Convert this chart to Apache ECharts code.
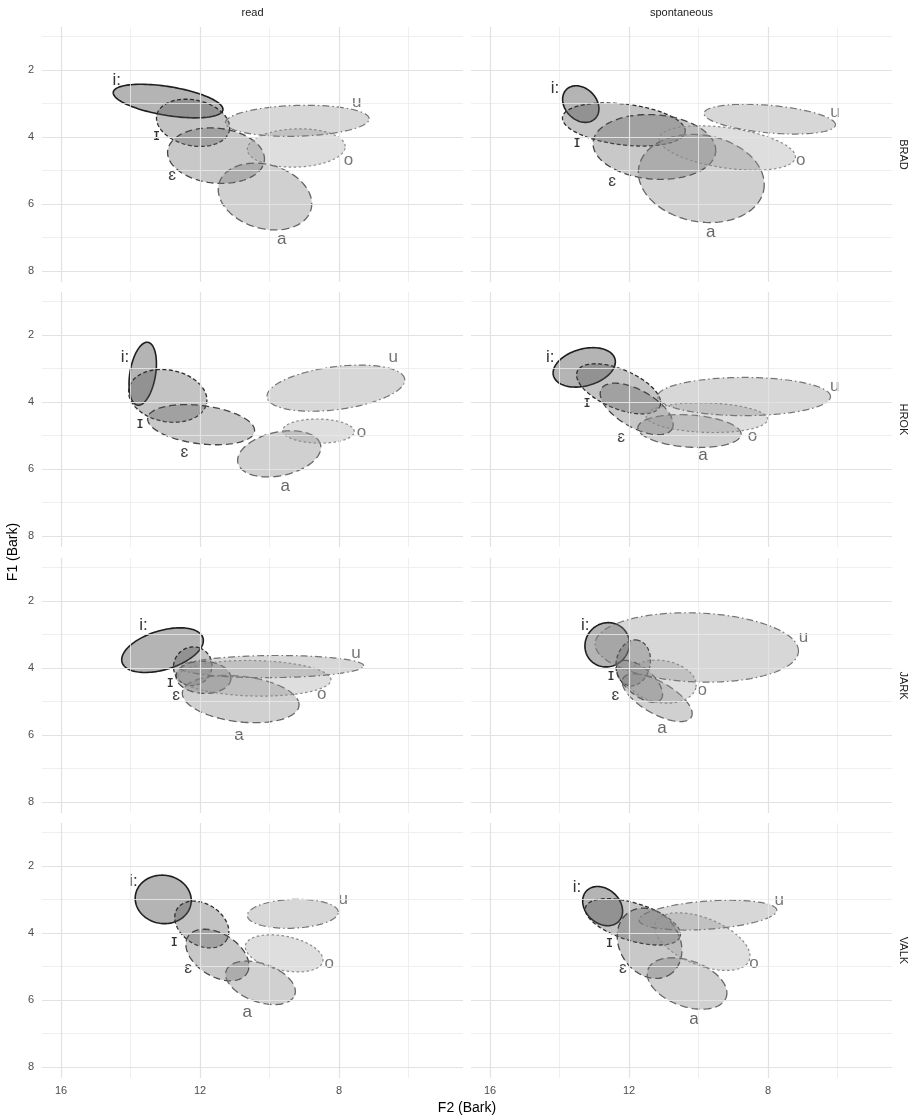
<!DOCTYPE html>
<html>
<head>
<meta charset="utf-8">
<script src="https://cdn.jsdelivr.net/npm/echarts@6/dist/echarts.min.js"></script>
<style>
  html, body { margin: 0; padding: 0; background: #ffffff; }
  #chart { width: 915px; height: 1119px; }
</style>
</head>
<body>
<div id="chart"></div>
<script>
// Facets: speakers in rows, speaking style in columns
const speakers = ['BRAD', 'HROK', 'JARK', 'VALK'];
const speechStyles = ['read', 'spontaneous'];
const vowels = ['i:', 'ɪ', 'ɛ', 'a', 'o', 'u'];

// Vowel ellipses, one row per vowel (order as in `vowels`):
// [F2 centre, F1 centre, semi-major, semi-minor, tilt in degrees] in Bark
const BRAD_read = [
  [12.92, 2.93, 1.60, 0.43, -9.6],
  [12.20, 3.58, 1.07, 0.68, -13],
  [11.54, 4.56, 1.40, 0.82, -6],
  [10.13, 5.78, 1.38, 0.95, -17.6],
  [9.23, 4.33, 1.41, 0.57, 1.9],
  [9.20, 3.52, 2.07, 0.46, 1.7]
];
const BRAD_spontaneous = [
  [13.39, 3.02, 0.60, 0.46, -50],
  [12.15, 3.63, 1.78, 0.61, -7],
  [11.27, 4.30, 1.77, 0.96, -4.6],
  [9.92, 5.24, 1.83, 1.29, -11.4],
  [9.17, 4.33, 1.98, 0.60, -8.5],
  [7.95, 3.47, 1.90, 0.41, -5.3]
];
const HROK_read = [
  [13.65, 3.16, 0.95, 0.37, 81],
  [12.93, 3.82, 1.14, 0.77, -11.6],
  [11.97, 4.68, 1.55, 0.57, -7.4],
  [9.72, 5.55, 1.22, 0.65, 12.9],
  [8.59, 4.87, 1.03, 0.36, -1],
  [8.09, 3.59, 2.00, 0.64, 7.8]
];
const HROK_spontaneous = [
  [13.29, 2.97, 0.92, 0.55, 16.5],
  [12.30, 3.61, 1.30, 0.58, -24],
  [11.78, 4.21, 1.18, 0.55, -31],
  [10.26, 4.87, 1.49, 0.48, -4],
  [9.76, 4.47, 1.75, 0.44, -1.7],
  [8.69, 3.84, 2.49, 0.57, 0]
];
const JARK_read = [
  [13.08, 3.47, 1.22, 0.58, 17.8],
  [12.21, 3.95, 0.58, 0.55, 70],
  [11.90, 4.28, 0.79, 0.48, -3],
  [10.83, 4.93, 1.69, 0.68, -6.9],
  [10.43, 4.31, 2.20, 0.53, -1.3],
  [9.94, 3.96, 2.65, 0.33, 0.5]
];
const JARK_spontaneous = [
  [12.63, 3.31, 0.67, 0.63, 60],
  [11.88, 3.85, 0.69, 0.49, 80],
  [11.70, 4.40, 0.82, 0.40, -42],
  [11.19, 4.89, 1.14, 0.47, -31],
  [11.06, 4.41, 1.00, 0.63, -9.5],
  [10.05, 3.39, 2.93, 1.03, -2.3]
];
const VALK_read = [
  [13.06, 3.00, 0.81, 0.72, -11],
  [11.95, 3.75, 0.85, 0.61, -35],
  [11.50, 4.66, 1.01, 0.63, -34],
  [10.26, 5.49, 1.05, 0.57, -20.6],
  [9.58, 4.61, 1.14, 0.51, -12.3],
  [9.33, 3.43, 1.31, 0.43, 2.4]
];
const VALK_spontaneous = [
  [12.76, 3.20, 0.65, 0.50, -47],
  [11.89, 3.67, 1.43, 0.56, -18],
  [11.41, 4.31, 1.10, 0.87, -60.5],
  [10.33, 5.51, 1.20, 0.68, -21],
  [9.89, 4.26, 1.46, 0.70, -23],
  [9.73, 3.47, 1.99, 0.42, 4.3]
];

// Vowel label anchors [F2, F1] in Bark
const BRAD_read_labels = [[14.40, 2.30], [13.25, 3.94], [12.80, 5.16], [9.65, 7.05], [7.73, 4.71], [7.49, 2.98]];
const BRAD_spontaneous_labels = [[14.13, 2.55], [13.50, 4.17], [12.49, 5.33], [9.65, 6.85], [7.06, 4.69], [6.07, 3.27]];
const HROK_read_labels = [[14.16, 2.67], [13.73, 4.64], [12.45, 5.49], [9.55, 6.52], [7.35, 4.90], [6.44, 2.67]];
const HROK_spontaneous_labels = [[14.27, 2.67], [13.21, 4.02], [12.23, 5.07], [9.87, 5.60], [8.45, 5.04], [6.08, 3.52]];
const JARK_read_labels = [[13.63, 2.72], [12.86, 4.42], [12.69, 4.81], [10.88, 6.01], [8.50, 4.79], [7.51, 3.55]];
const JARK_spontaneous_labels = [[13.26, 2.72], [12.52, 4.22], [12.39, 4.81], [11.05, 5.81], [9.89, 4.66], [6.98, 3.10]];
const VALK_read_labels = [[13.92, 2.47], [12.74, 4.25], [12.34, 5.07], [10.64, 6.37], [8.28, 4.90], [7.88, 3.00]];
const VALK_spontaneous_labels = [[13.50, 2.64], [12.56, 4.29], [12.18, 5.07], [10.13, 6.57], [8.40, 4.92], [7.68, 3.04]];

const facetEllipses = {
  BRAD: { read: BRAD_read, spontaneous: BRAD_spontaneous },
  HROK: { read: HROK_read, spontaneous: HROK_spontaneous },
  JARK: { read: JARK_read, spontaneous: JARK_spontaneous },
  VALK: { read: VALK_read, spontaneous: VALK_spontaneous }
};
const facetLabels = {
  BRAD: { read: BRAD_read_labels, spontaneous: BRAD_spontaneous_labels },
  HROK: { read: HROK_read_labels, spontaneous: HROK_spontaneous_labels },
  JARK: { read: JARK_read_labels, spontaneous: JARK_spontaneous_labels },
  VALK: { read: VALK_read_labels, spontaneous: VALK_spontaneous_labels }
};

// Axis scales and tick labels (Bark)
const f2Range = [4.43, 16.55];
const f1Range = [0.72, 8.33];
const f2TickLabels = [16, 12, 8];
const f1TickLabels = [2, 4, 6, 8];
const f2MajorGrid = [16, 12, 8];
const f2MinorGrid = [14, 10, 6];
const f1MajorGrid = [2, 4, 6, 8];
const f1MinorGrid = [1, 3, 5, 7];

// Drawing styles per vowel
const vowelStyle = {
  'i:': { fill: 'rgba(40,40,40,0.35)',    stroke: '#1e1e1e', width: 1.6, dash: null,             text: '#333333' },
  'ɪ':  { fill: 'rgba(84,84,84,0.35)',    stroke: '#2e2e2e', width: 1.3, dash: [4, 2.5],         text: '#333333' },
  'ɛ':  { fill: 'rgba(98,98,98,0.35)',    stroke: '#454545', width: 1.3, dash: [7, 4],           text: '#444444' },
  'a':  { fill: 'rgba(121,121,121,0.35)', stroke: '#666666', width: 1.3, dash: [8, 4],           text: '#666666' },
  'o':  { fill: 'rgba(161,161,161,0.35)', stroke: '#8a8a8a', width: 1.2, dash: [2.5, 2.5],       text: '#777777' },
  'u':  { fill: 'rgba(141,141,141,0.35)', stroke: '#757575', width: 1.2, dash: [7, 3, 1.5, 3],   text: '#777777' }
};

// Panel layout (pixels)
const colLeft = [42, 471];
const panelWidth = 421;
const rowTop = [27, 292, 558, 823];
const panelHeight = 255;
const fontFamily = '"Liberation Sans", Arial, Helvetica, sans-serif';

function renderEllipse(params, api) {
  const cx = api.value(0), cy = api.value(1);
  const a = api.value(2), b = api.value(3);
  const ang = api.value(4) * Math.PI / 180;
  const st = vowelStyle[vowels[api.value(5)]];
  const pts = [];
  const n = 120;
  for (let k = 0; k < n; k++) {
    const t = 2 * Math.PI * k / n;
    const u = a * Math.cos(t), w = b * Math.sin(t);
    // tilt is measured on screen; both axes run reversed
    const dx = u * Math.cos(ang) - w * Math.sin(ang);
    const dy = u * Math.sin(ang) + w * Math.cos(ang);
    pts.push(api.coord([cx - dx, cy - dy]));
  }
  return {
    type: 'polygon',
    shape: { points: pts },
    style: {
      fill: st.fill,
      stroke: st.stroke,
      lineWidth: st.width,
      lineDash: st.dash || null
    }
  };
}

function renderLabel(params, api) {
  const p = api.coord([api.value(0), api.value(1)]);
  const v = vowels[api.value(2)];
  return {
    type: 'text',
    x: p[0],
    y: p[1],
    style: {
      text: v,
      fill: vowelStyle[v].text,
      fontSize: 17,
      fontFamily: fontFamily,
      align: 'center',
      verticalAlign: 'middle'
    }
  };
}

const grids = [], xAxes = [], yAxes = [], series = [], graphics = [];
let g = 0;
speakers.forEach((spk, r) => {
  speechStyles.forEach((sty, c) => {
    grids.push({ left: colLeft[c], top: rowTop[r], width: panelWidth, height: panelHeight, containLabel: false });
    xAxes.push({
      type: 'value', gridIndex: g, inverse: true, min: f2Range[0], max: f2Range[1],
      axisLine: { show: false }, axisTick: { show: false }, splitLine: { show: false },
      axisLabel: {
        show: r === speakers.length - 1,
        customValues: f2TickLabels,
        color: '#4d4d4d', fontSize: 11, fontFamily: fontFamily, margin: 7
      }
    });
    yAxes.push({
      type: 'value', gridIndex: g, inverse: true, min: f1Range[0], max: f1Range[1],
      axisLine: { show: false }, axisTick: { show: false }, splitLine: { show: false },
      axisLabel: {
        show: c === 0,
        customValues: f1TickLabels,
        color: '#4d4d4d', fontSize: 11, fontFamily: fontFamily, margin: 8
      }
    });

    // panel grid lines
    const lines = [];
    f1MinorGrid.forEach(v => lines.push({ yAxis: v, lineStyle: { color: '#ebebeb', width: 0.8, type: 'solid' } }));
    f2MinorGrid.forEach(v => lines.push({ xAxis: v, lineStyle: { color: '#ebebeb', width: 0.8, type: 'solid' } }));
    f1MajorGrid.forEach(v => lines.push({ yAxis: v, lineStyle: { color: '#e2e2e2', width: 1.2, type: 'solid' } }));
    f2MajorGrid.forEach(v => lines.push({ xAxis: v, lineStyle: { color: '#e2e2e2', width: 1.2, type: 'solid' } }));
    series.push({
      type: 'line', xAxisIndex: g, yAxisIndex: g, data: [], z: 1, silent: true,
      markLine: { silent: true, symbol: ['none', 'none'], label: { show: false }, animation: false, data: lines }
    });

    series.push({
      type: 'custom', xAxisIndex: g, yAxisIndex: g, z: 2, silent: true,
      renderItem: renderEllipse,
      encode: { x: 0, y: 1 },
      data: facetEllipses[spk][sty].map((row, i) => row.concat([i]))
    });
    series.push({
      type: 'custom', xAxisIndex: g, yAxisIndex: g, z: 3, silent: true,
      renderItem: renderLabel,
      encode: { x: 0, y: 1 },
      data: facetLabels[spk][sty].map((row, i) => row.concat([i]))
    });
    g++;
  });
  // speaker strip on the right
  graphics.push({
    type: 'text', x: 903, y: rowTop[r] + panelHeight / 2, rotation: -Math.PI / 2,
    style: { text: spk, fill: '#1a1a1a', fontSize: 11, fontFamily: fontFamily, align: 'center', verticalAlign: 'middle' }
  });
});
speechStyles.forEach((sty, c) => {
  graphics.push({
    type: 'text', x: colLeft[c] + panelWidth / 2, y: 13,
    style: { text: sty, fill: '#1a1a1a', fontSize: 11, fontFamily: fontFamily, align: 'center', verticalAlign: 'middle' }
  });
});
graphics.push({
  type: 'text', x: 467, y: 1108,
  style: { text: 'F2 (Bark)', fill: '#000000', fontSize: 14, fontFamily: fontFamily, align: 'center', verticalAlign: 'middle' }
});
graphics.push({
  type: 'text', x: 13, y: 552, rotation: Math.PI / 2,
  style: { text: 'F1 (Bark)', fill: '#000000', fontSize: 14, fontFamily: fontFamily, align: 'center', verticalAlign: 'middle' }
});

const chart = echarts.init(document.getElementById('chart'), null, { renderer: 'canvas' });
chart.setOption({
  backgroundColor: '#ffffff',
  animation: false,
  grid: grids,
  xAxis: xAxes,
  yAxis: yAxes,
  series: series,
  graphic: graphics
});
</script>
</body>
</html>
